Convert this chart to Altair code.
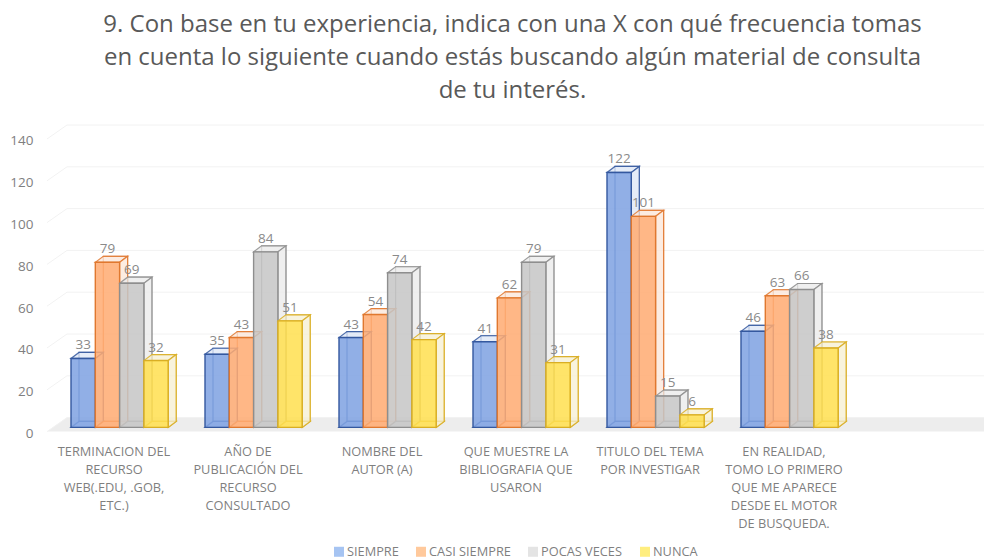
import altair as alt
import pandas as pd

FONT = "Open Sans"
title_lines = [
    "9. Con base en tu experiencia, indica con una X con qué frecuencia tomas",
    "en cuenta lo siguiente cuando estás buscando algún material de consulta",
    "de tu interés.",
]
categories = [
    "TERMINACION DEL\nRECURSO\nWEB(.EDU, .GOB,\nETC.)",
    "AÑO DE\nPUBLICACIÓN DEL\nRECURSO\nCONSULTADO",
    "NOMBRE DEL\nAUTOR (A)",
    "QUE MUESTRE LA\nBIBLIOGRAFIA QUE\nUSARON",
    "TITULO DEL TEMA\nPOR INVESTIGAR",
    "EN REALIDAD,\nTOMO LO PRIMERO\nQUE ME APARECE\nDESDE EL MOTOR\nDE BUSQUEDA.",
]
series = ["SIEMPRE", "CASI SIEMPRE", "POCAS VECES", "NUNCA"]
siempre = [33, 35, 43, 41, 122, 46]
casi = [79, 43, 54, 62, 101, 63]
pocas = [69, 84, 74, 79, 15, 66]
nunca = [32, 51, 42, 31, 6, 38]
values = [siempre, casi, pocas, nunca]

front_colors = ["#7FA2E2", "#FFAB72", "#C6C6C6", "#FFDF50"]
edge_colors = ["#34589F", "#E0782F", "#8E8E8E", "#D9AE24"]
face_colors = ["#DCE5F5", "#FBE6D8", "#EAEAEA", "#F6EFD2"]
legend_colors = ["#A6C4F2", "#FFC99C", "#E4E4E4", "#FFEE7F"]
ticks = [0, 20, 40, 60, 80, 100, 120, 140]

PX_X, PX_Y = 134.0, 2.09
START, W = 24 / PX_X, 24.3 / PX_X
DX, DY = 8 / PX_X, 6 / PX_Y
BASE = 2.0
FLOOR_DX, FLOOR_DY = 20 / PX_X, 14 / PX_Y
XMAX = 937 / PX_X
# legend rows sit below the zero line, in the chart's own axis units
legend_x = [292 / PX_X, 374 / PX_X, 486 / PX_X, 598 / PX_X]
legend_y = -57.5

bars, faces, labels = [], [], []
for c in range(len(categories)):
    for s, name in enumerate(series):
        v = values[s][c]
        L = c + START + s * W
        R = L + W
        top = BASE + v
        bars.append(dict(s=name, k="f" + name, L=L, R=R, b=BASE, t=top, bl=L + DX, br=R + DX, bb=BASE + DY, bt=top + DY))
        labels.append(dict(x=(L + R) / 2, y=top, v=v))
        fid = f"{c}-{s}"
        pts = []
        for key, y0 in (("top", top), ("bottom", BASE)):
            pts += [
                (fid + key, L, y0, y0),
                (fid + key, L + DX, y0, y0 + DY),
                (fid + key, R, y0, y0 + DY),
                (fid + key, R + DX, y0 + DY, y0 + DY),
            ]
        pts += [(fid + "side", R, BASE, top), (fid + "side", R + DX, BASE + DY, top + DY)]
        for p in pts:
            faces.append(dict(id=p[0], s=name, k="p" + name, x=p[1], y=p[2], y2=p[3]))

bars = pd.DataFrame(bars)
faces = pd.DataFrame(faces)
labels = pd.DataFrame(labels)
xlabels = pd.DataFrame([dict(x=i + 0.5, y=0, t=t) for i, t in enumerate(categories)])
legend_df = pd.DataFrame({"s": series, "x": legend_x, "y": [legend_y] * 4})

xs = alt.Scale(domain=[0, XMAX], nice=False, zero=False)
ys = alt.Scale(domain=[0, 140], nice=False)
yaxis = alt.Axis(values=ticks, domain=False, ticks=False, grid=False, title=None, labelPadding=14,
                 labelFontSize=13.5, labelColor="#7F7F7F", labelFont=FONT, labelOffset=2)
X = alt.X("x:Q", scale=xs, axis=None)
Y = alt.Y("y:Q", scale=ys, stack=None, axis=yaxis)
fill = alt.Fill("k:N", scale=alt.Scale(domain=["f" + n for n in series] + ["p" + n for n in series],
                                       range=front_colors + face_colors), legend=None)
stroke = alt.Stroke("s:N", scale=alt.Scale(domain=series, range=edge_colors), legend=None)

floor = alt.Chart(pd.DataFrame({"x": [0, FLOOR_DX, XMAX], "y": [0, 0, 0], "y2": [0, FLOOR_DY, FLOOR_DY]})).mark_area(
    color="#EDEDED").encode(x=X, y=Y, y2="y2:Q")

grid_df = pd.DataFrame({"x": [0.0] * len(ticks), "x2": [FLOOR_DX] * len(ticks), "xe": [XMAX] * len(ticks),
                        "y": ticks, "g": [t + FLOOR_DY for t in ticks]})
grid_h = alt.Chart(grid_df).mark_rule(color="#F2F2F2", strokeWidth=1).encode(
    x=alt.X("x2:Q", scale=xs, axis=None), x2="xe:Q", y=alt.Y("g:Q", scale=ys, axis=yaxis))
grid_s = alt.Chart(grid_df).mark_rule(color="#F2F2F2", strokeWidth=1).encode(
    x=X, x2="x2:Q", y=Y, y2="g:Q")

back = alt.Chart(bars).mark_rect(fillOpacity=0, strokeWidth=1.2, strokeOpacity=0.85).encode(
    x=alt.X("bl:Q", scale=xs, axis=None), x2="br:Q",
    y=alt.Y("bb:Q", scale=ys, axis=yaxis), y2="bt:Q", stroke=stroke)

face = alt.Chart(faces).mark_area(strokeWidth=1.2, fillOpacity=0.75, strokeOpacity=0.85, interpolate="linear").encode(
    x=X, y=Y, y2="y2:Q", fill=fill, stroke=stroke, detail="id:N")

front = alt.Chart(bars).mark_rect(strokeWidth=1.4, fillOpacity=0.86).encode(
    x=alt.X("L:Q", scale=xs, axis=None), x2="R:Q",
    y=alt.Y("b:Q", scale=ys, axis=yaxis), y2="t:Q", fill=fill, stroke=stroke)

value_text = alt.Chart(labels).mark_text(font=FONT, fontSize=13.5, color="#8A8A8A", baseline="bottom", dy=-6).encode(
    x=X, y=Y, text="v:Q")

cat_text = alt.Chart(xlabels).mark_text(font=FONT, fontSize=12.8, color="#7F7F7F", baseline="top",
                                        align="center", dy=14, lineHeight=18, lineBreak="\n").encode(
    x=X, y=Y, text="t:N")

legend_marks = alt.Chart(legend_df).mark_square(size=100, opacity=1).encode(
    x=X, y=Y,
    color=alt.Color("s:N", sort=series, scale=alt.Scale(domain=series, range=legend_colors), legend=None))
legend_text = alt.Chart(legend_df).mark_text(font=FONT, fontSize=12.8, color="#7F7F7F", align="left", dx=8).encode(
    x=X, y=Y, text="s:N")

chart = alt.layer(floor, grid_h, grid_s, back, face, front, value_text, cat_text, legend_marks, legend_text).properties(
    width=937, height=292.6,
    autosize=alt.AutoSizeParams(type="none"),
    padding={"left": 39, "top": 131, "right": 0, "bottom": 132},
    background="white",
    title=alt.TitleParams(text=title_lines, font=FONT, fontSize=24, fontWeight="normal", color="#595959",
                          anchor="middle", frame="group", dx=-3, offset=21, lineHeight=33),
).configure_view(stroke=None)

chart.save("out.html", embed_options={"renderer": "svg", "actions": False})
